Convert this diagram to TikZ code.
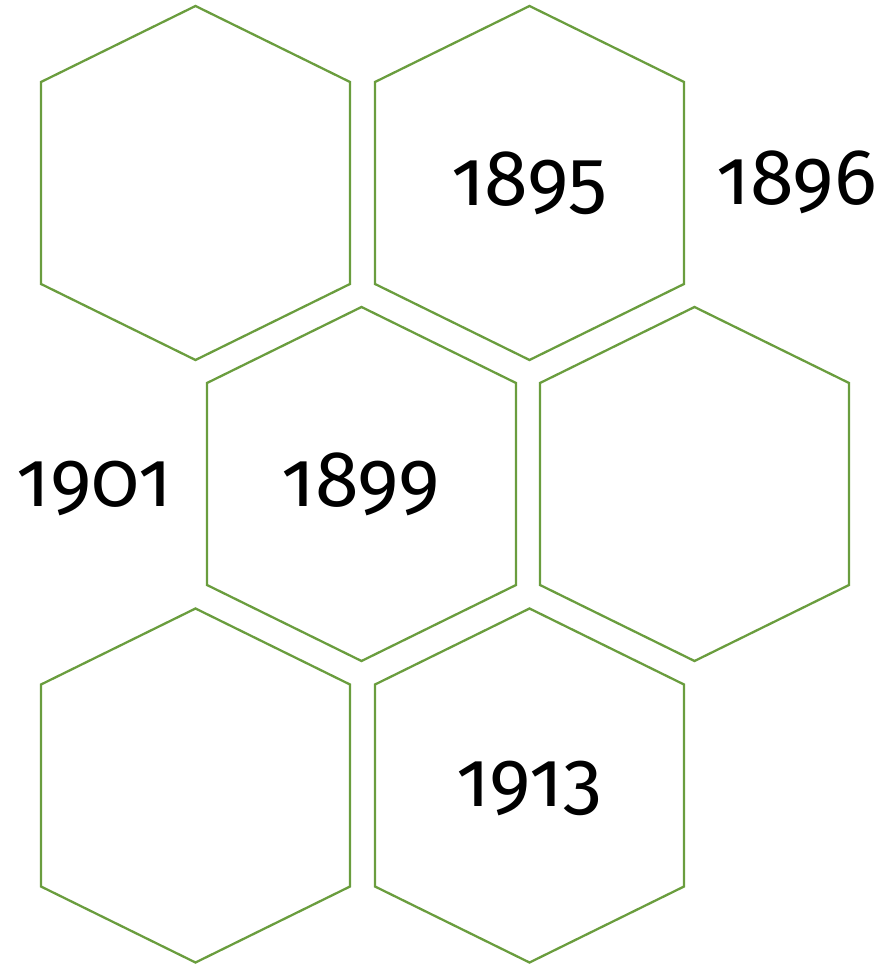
\documentclass[tikz,border=0pt]{standalone}
\usepackage{fontspec}
\setmainfont[Numbers=OldStyle]{Fira Sans}
\usetikzlibrary{calc}
\definecolor{hexgruen}{HTML}{6A9D3E}
\tikzset{
  wabe/.style={draw=hexgruen,line width=0.65pt,line join=miter},
  jahr/.style={anchor=base,inner sep=0pt,font=\fontsize{22.5}{27}\selectfont},
}

\begin{document}
\begin{tikzpicture}[x=0.01cm,y=-0.01cm]
  \useasboundingbox (0,0) rectangle (884,965);
  % Waben
  \foreach \cx/\cy in {195.5/183,529.5/183,361.5/484,694.5/484,195.5/785.5,529.5/785.5}
    \draw[wabe] (\cx,\cy-177) -- (\cx+154.5,\cy-101) -- (\cx+154.5,\cy+101)
      -- (\cx,\cy+177) -- (\cx-154.5,\cy+101) -- (\cx-154.5,\cy-101) -- cycle;
  % Jahreszahlen
  \node[jahr] (j1895) at (529,206) {1895};
  \node[jahr] (j1896) at (797,205) {1896};
  \node[jahr] (j1901) at (94,507) {1901};
  \node[jahr] (j1899) at (361,507) {1899};
  \node[jahr] (j1913) at (529,806) {1913};
\end{tikzpicture}
\end{document}
